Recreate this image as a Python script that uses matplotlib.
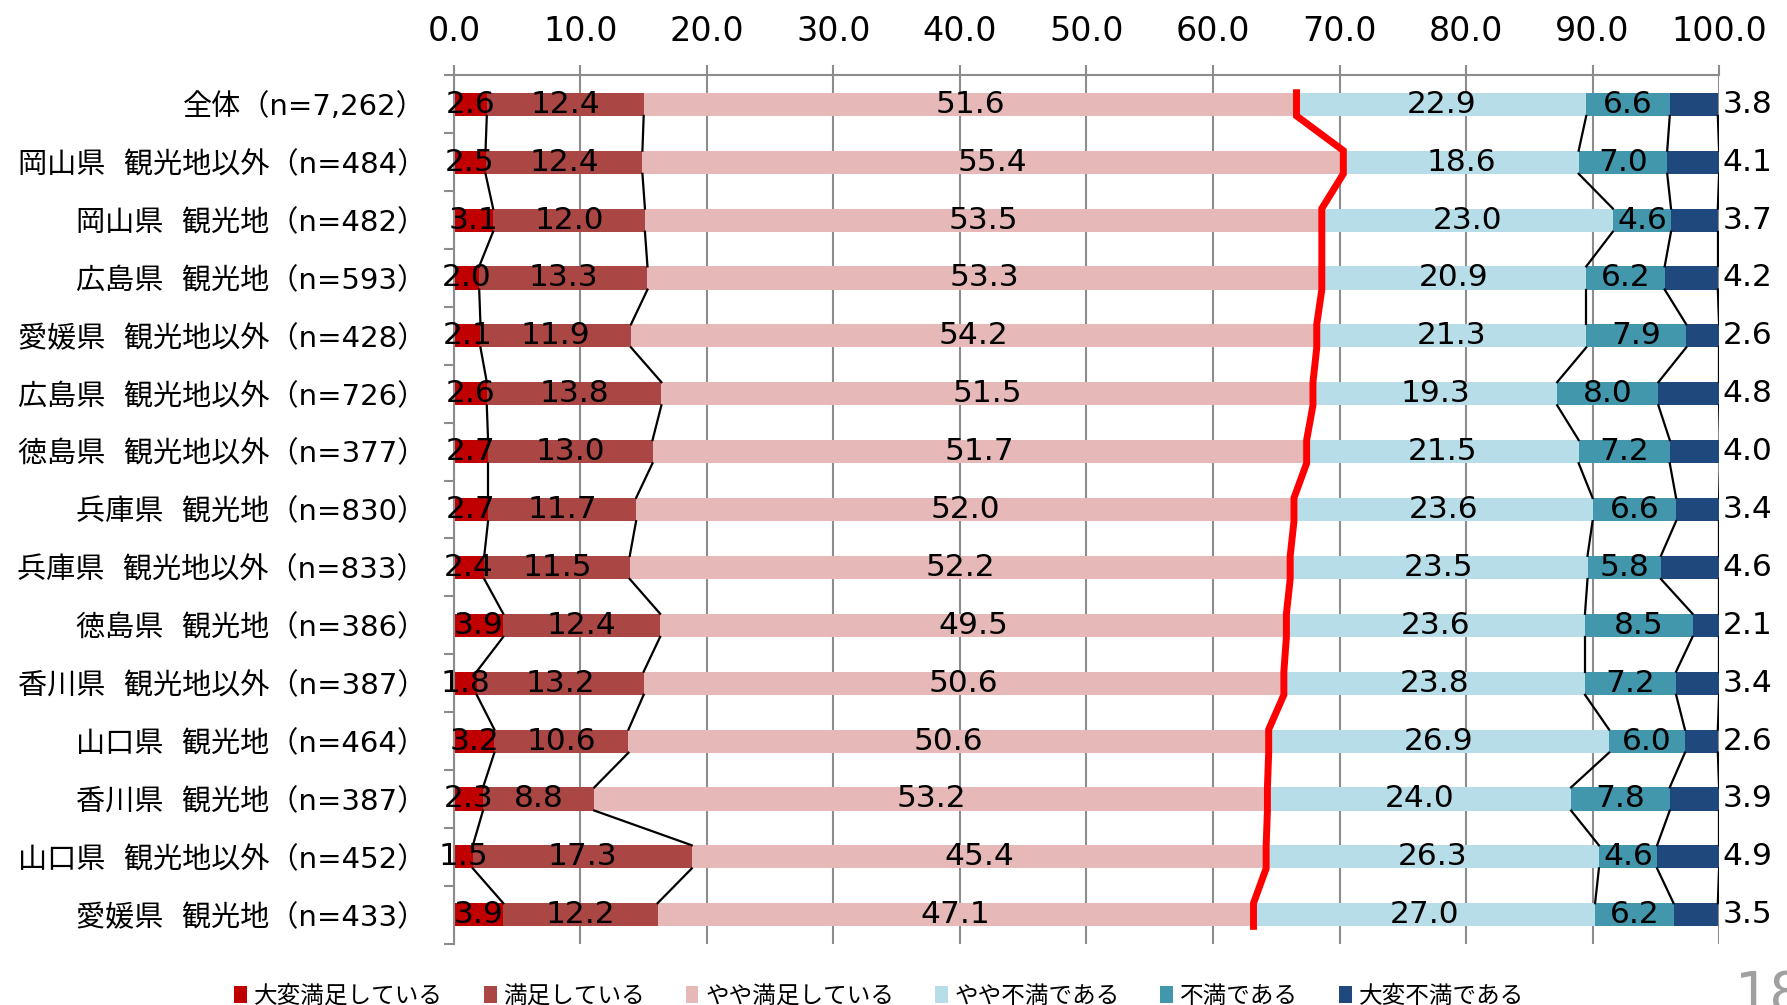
import matplotlib.pyplot as plt
import numpy as np
from matplotlib.patches import Patch

plt.rcParams['font.family'] = ['DejaVu Sans', 'Noto Sans CJK JP']

categories = [
    "全体（n=7,262）",
    "岡山県  観光地以外（n=484）",
    "岡山県  観光地（n=482）",
    "広島県  観光地（n=593）",
    "愛媛県  観光地以外（n=428）",
    "広島県  観光地以外（n=726）",
    "徳島県  観光地以外（n=377）",
    "兵庫県  観光地（n=830）",
    "兵庫県  観光地以外（n=833）",
    "徳島県  観光地（n=386）",
    "香川県  観光地以外（n=387）",
    "山口県  観光地（n=464）",
    "香川県  観光地（n=387）",
    "山口県  観光地以外（n=452）",
    "愛媛県  観光地（n=433）",
]
series_names = ["大変満足している", "満足している", "やや満足している",
                "やや不満である", "不満である", "大変不満である"]
very_satisfied = [2.6, 2.5, 3.1, 2.0, 2.1, 2.6, 2.7, 2.7, 2.4, 3.9, 1.8, 3.2, 2.3, 1.5, 3.9]
satisfied = [12.4, 12.4, 12.0, 13.3, 11.9, 13.8, 13.0, 11.7, 11.5, 12.4, 13.2, 10.6, 8.8, 17.3, 12.2]
somewhat_satisfied = [51.6, 55.4, 53.5, 53.3, 54.2, 51.5, 51.7, 52.0, 52.2, 49.5, 50.6, 50.6, 53.2, 45.4, 47.1]
somewhat_dissatisfied = [22.9, 18.6, 23.0, 20.9, 21.3, 19.3, 21.5, 23.6, 23.5, 23.6, 23.8, 26.9, 24.0, 26.3, 27.0]
dissatisfied = [6.6, 7.0, 4.6, 6.2, 7.9, 8.0, 7.2, 6.6, 5.8, 8.5, 7.2, 6.0, 7.8, 4.6, 6.2]
very_dissatisfied = [3.8, 4.1, 3.7, 4.2, 2.6, 4.8, 4.0, 3.4, 4.6, 2.1, 3.4, 2.6, 3.9, 4.9, 3.5]
xticks = [0, 10, 20, 30, 40, 50, 60, 70, 80, 90, 100]

colors = ["#C00000", "#AA4644", "#E6B8B7", "#B7DEE8", "#4397AD", "#1F487C"]

values = np.array([very_satisfied, satisfied, somewhat_satisfied,
                   somewhat_dissatisfied, dissatisfied, very_dissatisfied]).T
cum = np.cumsum(values, axis=1)
n = len(categories)
y = np.arange(n)
h = 0.4

fig = plt.figure(figsize=(17.87, 10.05), dpi=100)
ax = fig.add_axes([0.254, 0.061, 0.708, 0.864])

left = np.zeros(n)
for k in range(6):
    ax.barh(y, values[:, k], left=left, height=h, color=colors[k], zorder=2)
    for i in range(n):
        v = values[i, k]
        if k < 5:
            ax.text(left[i] + v / 2, y[i], f"{v:.1f}", ha='center', va='center',
                    fontsize=22.5, zorder=5)
        else:
            ax.text(100.3, y[i], f"{v:.1f}", ha='left', va='center',
                    fontsize=22.5, zorder=5)
    left = left + values[:, k]

# series lines between bars
for k in range(6):
    for i in range(n - 1):
        ax.plot([cum[i, k], cum[i + 1, k]], [i + h / 2, i + 1 - h / 2],
                color='black', lw=1.6, zorder=3)

# red line along the boundary of satisfied share
rx, ry = [], []
for i in range(n):
    rx += [cum[i, 2], cum[i, 2]]
    ry += [i - h / 2, i + h / 2]
ax.plot(rx, ry, color='#FF0000', lw=5, zorder=4, solid_joinstyle='miter')

ax.set_xlim(0, 100)
ax.set_ylim(n - 0.5, -0.5)
ax.xaxis.tick_top()
ax.set_xticks(xticks)
ax.set_xticklabels([f"{t:.1f}" for t in xticks], fontsize=24)
ax.tick_params(axis='x', length=7, width=1.5, color='#8C8C8C', pad=13)
ax.grid(axis='x', color='#8C8C8C', lw=1.5, zorder=0)

ax.set_yticks(y)
ax.set_yticklabels(categories, fontsize=21)
ax.set_yticks(np.arange(n + 1) - 0.5, minor=True)
ax.tick_params(axis='y', which='major', length=0, pad=20)
ax.tick_params(axis='y', which='minor', length=7, width=1.5, color='#8C8C8C')

for s in ['right', 'bottom']:
    ax.spines[s].set_visible(False)
for s in ['left', 'top']:
    ax.spines[s].set_color('#8C8C8C')
    ax.spines[s].set_linewidth(1.5)

handles = [Patch(facecolor=c, edgecolor='none') for c in colors]
fig.legend(handles, series_names, loc='lower center', bbox_to_anchor=(0.492, -0.024),
           ncol=6, frameon=False, fontsize=17, handlelength=0.55, handleheight=0.75,
           handletextpad=0.3, columnspacing=1.7)

fig.text(0.971, -0.006, "18", fontsize=40, color='#A0A0A0', ha='left', va='baseline')

fig.savefig("out.png", dpi=100)
